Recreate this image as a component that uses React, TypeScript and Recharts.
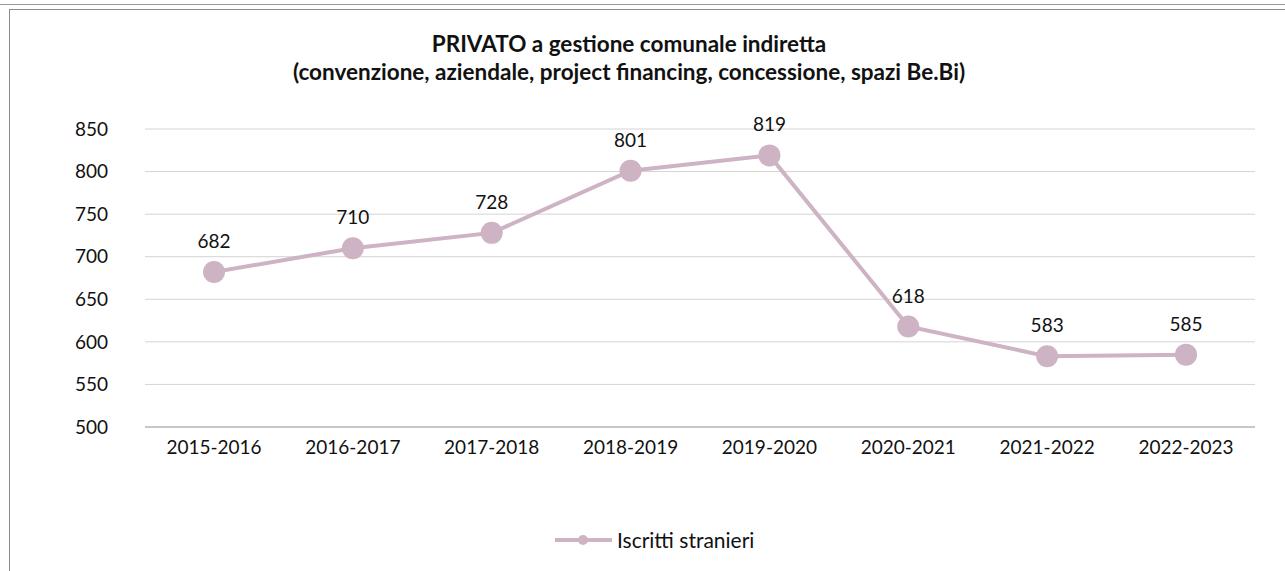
import { LineChart, Line, XAxis, YAxis, CartesianGrid, Legend, LabelList } from "recharts";

const years = [
  "2015-2016",
  "2016-2017",
  "2017-2018",
  "2018-2019",
  "2019-2020",
  "2020-2021",
  "2021-2022",
  "2022-2023",
];
const iscrittiStranieri = [682, 710, 728, 801, 819, 618, 583, 585];
const yTicks = [500, 550, 600, 650, 700, 750, 800, 850];

const data = years.map((anno, i) => ({ anno, iscritti: iscrittiStranieri[i] }));

const FONT = "Lato, 'Open Sans', sans-serif";
const LINE_COLOR = "#cdb3c3";

function LegendBox() {
  return (
    <div style={{ display: "flex", alignItems: "center", height: 23, fontFamily: FONT, fontSize: 21, color: "#111" }}>
      <svg width={57} height={14}>
        <line x1={0} y1={7} x2={57} y2={7} stroke={LINE_COLOR} strokeWidth={4} />
        <circle cx={28} cy={7} r={5} fill={LINE_COLOR} />
      </svg>
      <span style={{ marginLeft: 5 }}>Iscritti stranieri</span>
    </div>
  );
}

export default function App() {
  return (
    <div style={{ position: "absolute", left: 0, top: 0, width: 1285, height: 571, background: "#fff" }}>
      {/* cornice del foglio */}
      <div style={{ position: "absolute", left: 0, top: 4, width: 1285, height: 1, background: "#9a9a9a" }} />
      <div style={{ position: "absolute", left: 9, top: 9, width: 1276, height: 1, background: "#8c8c8c" }} />
      <div style={{ position: "absolute", left: 9, top: 9, width: 1, height: 562, background: "#8c8c8c" }} />

      <div style={{ position: "absolute", left: 0, top: 30, width: 1258, lineHeight: "27px", textAlign: "center", fontFamily: FONT, fontWeight: 700, fontSize: 22.5, color: "#111", whiteSpace: "nowrap" }}>
        PRIVATO a gestione comunale indiretta
      </div>
      <div style={{ position: "absolute", left: 0, top: 58, width: 1258, lineHeight: "27px", textAlign: "center", fontFamily: FONT, fontWeight: 700, fontSize: 22.5, color: "#111", whiteSpace: "nowrap" }}>
        (convenzione, aziendale, project financing, concessione, spazi Be.Bi)
      </div>

      <LineChart width={1285} height={571} data={data} margin={{ top: 129, right: 30, bottom: 0, left: 0 }}>
        <CartesianGrid vertical={false} stroke="#d4d4d4" />
        <XAxis
          dataKey="anno"
          height={121}
          padding={{ left: 69, right: 69 }}
          tickLine={false}
          tickSize={0}
          tickMargin={14}
          axisLine={{ stroke: "#a6a6a6" }}
          tick={{ fontFamily: FONT, fontSize: 19, fill: "#111" }}
        />
        <YAxis
          width={145}
          domain={[500, 850]}
          ticks={yTicks}
          interval={0}
          axisLine={false}
          tickLine={false}
          tickSize={0}
          tickMargin={37}
          tick={{ fontFamily: FONT, fontSize: 19, fill: "#111" }}
        />
        <Legend
          verticalAlign="bottom"
          content={() => <LegendBox />}
          wrapperStyle={{ left: 555, bottom: 20, width: "auto" }}
        />
        <Line
          type="linear"
          dataKey="iscritti"
          name="Iscritti stranieri"
          stroke={LINE_COLOR}
          strokeWidth={4}
          dot={{ r: 11, fill: LINE_COLOR, stroke: LINE_COLOR, strokeWidth: 0 }}
          isAnimationActive={false}
        >
          <LabelList dataKey="iscritti" position="top" offset={24} style={{ fontFamily: FONT, fontSize: 19, fill: "#111" }} />
        </Line>
      </LineChart>
    </div>
  );
}
